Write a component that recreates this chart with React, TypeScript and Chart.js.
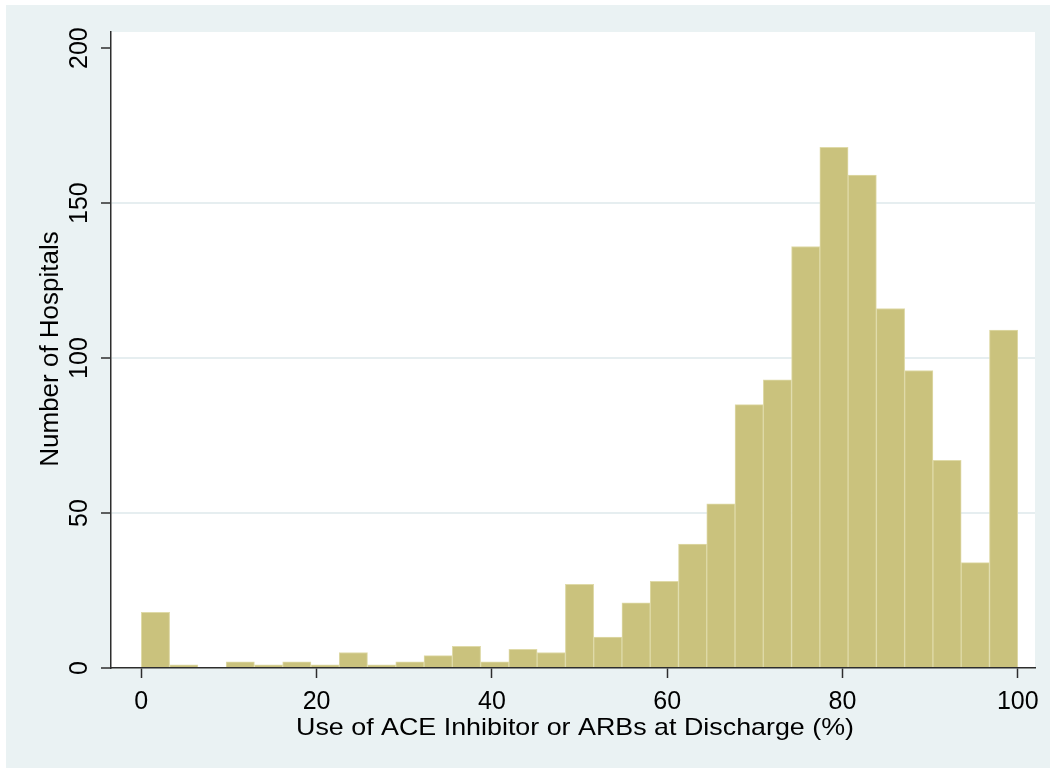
import React, { useEffect, useRef } from "react";
import { Chart, registerables } from "chart.js";

Chart.register(...registerables);

// ---- data ----
const binEdges = [
  0, 3.226, 6.452, 9.677, 12.903, 16.129, 19.355, 22.581, 25.806, 29.032, 32.258,
  35.484, 38.71, 41.935, 45.161, 48.387, 51.613, 54.839, 58.065, 61.29, 64.516,
  67.742, 70.968, 74.194, 77.419, 80.645, 83.871, 87.097, 90.323, 93.548, 96.774, 100,
];
const hospitalCounts = [
  18, 1, 0, 2, 1, 2, 1, 5, 1, 2, 4, 7, 2, 6, 5, 27, 10, 21, 28, 40, 53, 85, 93, 136,
  168, 159, 116, 96, 67, 34, 109,
];
const xTickValues = [0, 20, 40, 60, 80, 100];
const yTickValues = [0, 50, 100, 150, 200];
const xTitle = "Use of ACE Inhibitor or ARBs at Discharge (%)";
const yTitle = "Number of Hospitals";

const X_MIN = -3.46;
const X_MAX = 101.97;
const Y_MAX = 205.2;

// ---- style ----
const FONT = '"Liberation Sans", Arial, Helvetica, sans-serif';
const OUTER_BG = "rgb(234,242,243)";
const GRID = "rgb(230,238,240)";
const AXIS = "rgb(45,45,45)";
const BAR_FILL = "rgb(202,194,125)";
const BAR_EDGE = "rgb(223,218,168)";

const framePlugin = {
  id: "stataFrame",
  beforeDraw(chart: any) {
    const { ctx, chartArea: a, width, height } = chart;
    ctx.save();
    ctx.fillStyle = "#ffffff";
    ctx.fillRect(0, 0, width, height);
    ctx.fillStyle = OUTER_BG;
    ctx.fillRect(6, 5, width - 6, height - 5);
    ctx.fillStyle = "#ffffff";
    ctx.fillRect(a.left, a.top, a.right - a.left, a.bottom - a.top);
    ctx.restore();
  },
  afterDraw(chart: any) {
    const { ctx, chartArea: a } = chart;
    const xs = chart.scales.x;
    const ys = chart.scales.y;
    ctx.save();
    ctx.fillStyle = "#000000";
    ctx.textAlign = "center";
    ctx.textBaseline = "alphabetic";

    // x tick labels
    ctx.font = `25px ${FONT}`;
    xTickValues.forEach((v) => {
      ctx.fillText(String(v), xs.getPixelForValue(v), a.bottom + 41);
    });

    // y tick labels (rotated)
    yTickValues.forEach((v) => {
      const py = ys.getPixelForValue(v);
      ctx.save();
      ctx.translate(a.left - 24, py);
      ctx.rotate(-Math.PI / 2);
      ctx.fillText(String(v), 0, 0);
      ctx.restore();
    });

    // x title
    ctx.font = `24px ${FONT}`;
    const w = ctx.measureText(xTitle).width;
    const sx = 558 / w;
    ctx.save();
    ctx.translate((a.left + a.right) / 2 + 2, a.bottom + 66.5);
    ctx.scale(sx, 1);
    ctx.fillText(xTitle, 0, 0);
    ctx.restore();

    // y title
    ctx.font = `26px ${FONT}`;
    ctx.save();
    ctx.translate(a.left - 53, (a.top + a.bottom) / 2 - 1);
    ctx.rotate(-Math.PI / 2);
    ctx.fillText(yTitle, 0, 0);
    ctx.restore();

    ctx.restore();
  },
};

export default function App() {
  const ref = useRef<HTMLCanvasElement | null>(null);

  useEffect(() => {
    if (!ref.current) return;
    const points = hospitalCounts.map((c, i) => ({
      x: (binEdges[i] + binEdges[i + 1]) / 2,
      y: c,
    }));
    const chart = new Chart(ref.current, {
      type: "bar",
      data: {
        datasets: [
          {
            data: points as any,
            backgroundColor: BAR_FILL,
            borderColor: BAR_EDGE,
            borderWidth: 1,
            barPercentage: 1,
            categoryPercentage: 1,
          },
        ],
      },
      options: {
        animation: false,
        responsive: false,
        maintainAspectRatio: false,
        layout: { padding: { left: 111, right: 15, top: 32, bottom: 100 } },
        plugins: {
          legend: { display: false },
          tooltip: { enabled: false },
          title: { display: false },
        },
        scales: {
          x: {
            type: "linear",
            min: X_MIN,
            max: X_MAX,
            offset: false,
            afterBuildTicks: (s: any) => {
              s.ticks = xTickValues.map((v) => ({ value: v }));
            },
            afterFit: (s: any) => {
              s.height = 0;
            },
            ticks: { display: false },
            grid: {
              offset: false,
              drawOnChartArea: false,
              drawTicks: true,
              tickLength: 10,
              tickColor: AXIS,
              tickWidth: 1.5,
            },
            border: { display: true, color: AXIS, width: 1.5, z: 1 },
          },
          y: {
            type: "linear",
            min: 0,
            max: Y_MAX,
            afterBuildTicks: (s: any) => {
              s.ticks = yTickValues.map((v) => ({ value: v }));
            },
            afterFit: (s: any) => {
              s.width = 0;
            },
            ticks: { display: false },
            grid: {
              color: (c: any) =>
                c.tick && (c.tick.value === 0 || c.tick.value === 200)
                  ? "rgba(0,0,0,0)"
                  : GRID,
              lineWidth: 2,
              drawTicks: true,
              tickLength: 10,
              tickColor: AXIS,
              tickWidth: 1.5,
            },
            border: { display: true, color: AXIS, width: 1.5, z: 1 },
          },
        },
      },
      plugins: [framePlugin],
    });
    return () => chart.destroy();
  }, []);

  return (
    <div style={{ position: "absolute", left: 0, top: 0, width: 1050, height: 768 }}>
      <canvas ref={ref} width={1050} height={768} style={{ width: 1050, height: 768, display: "block" }} />
    </div>
  );
}
